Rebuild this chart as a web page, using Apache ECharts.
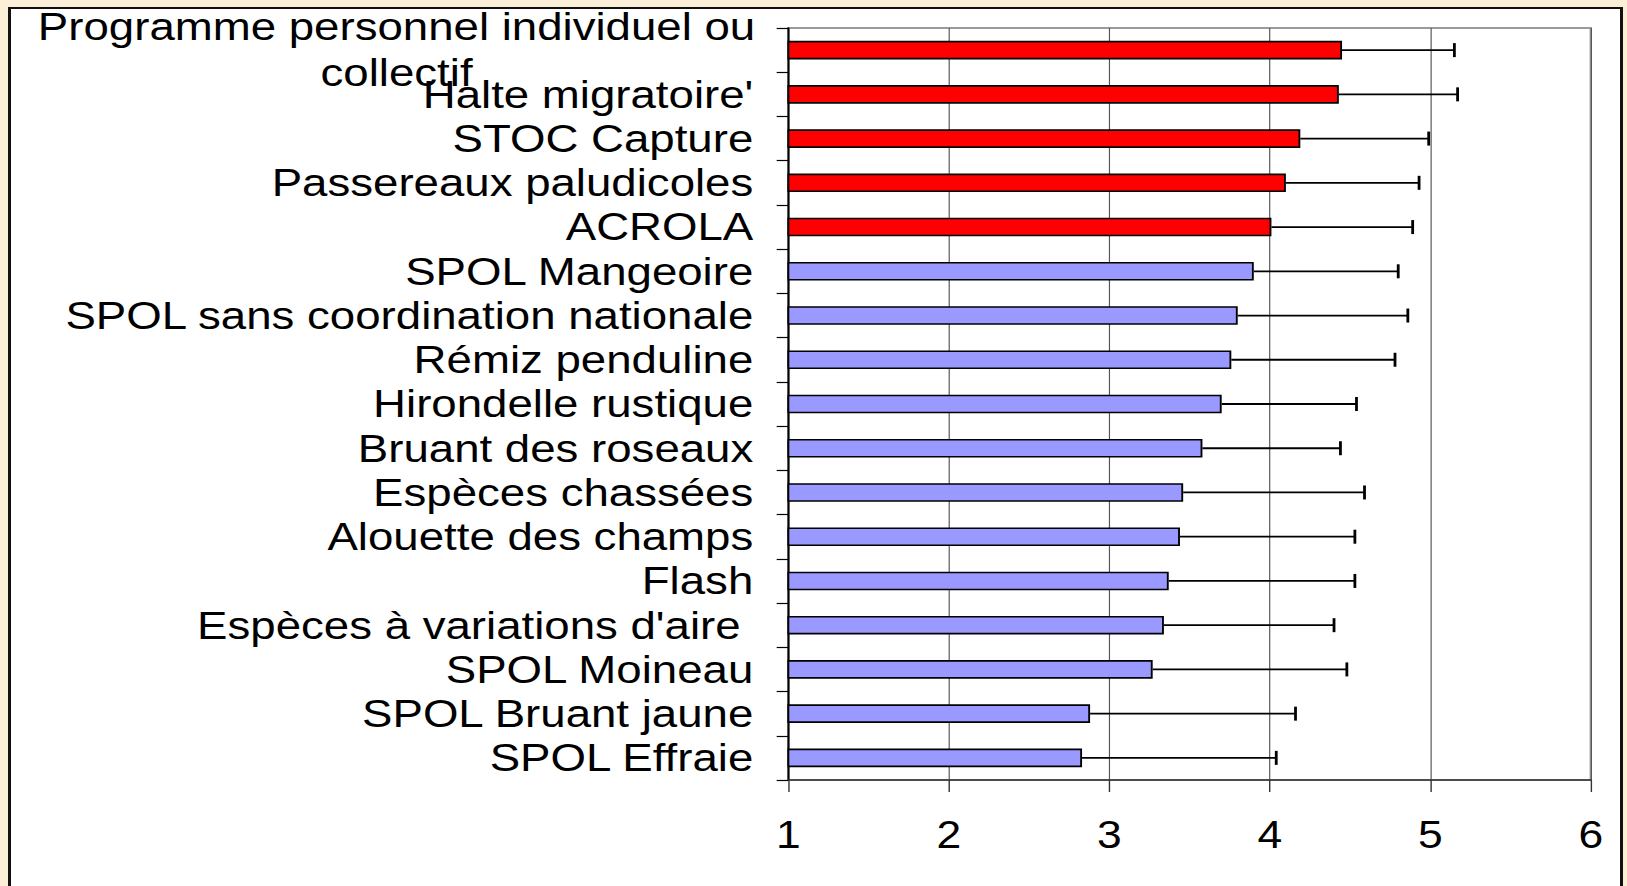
<!DOCTYPE html>
<html>
<head>
<meta charset="utf-8">
<script src="https://cdn.jsdelivr.net/npm/echarts@6/dist/echarts.min.js"></script>
<style>
  html, body { margin: 0; padding: 0; width: 1627px; height: 886px; overflow: hidden; background: #fcefd8; }
  #frame { position: absolute; left: 8px; top: 7px; width: 1609px; height: 900px; background: #fff;
           border-left: 3px solid #111; border-top: 2px solid #111; border-right: 3px solid #111; }
  /* the original picture is stretched sideways, so the chart is drawn narrow and widened */
  #chart { position: absolute; left: 0; top: 0; width: 1391px; height: 886px;
           transform: scaleX(1.1697); transform-origin: 0 0; }
</style>
</head>
<body>
<div id="frame"></div>
<div id="chart"></div>
<script>
const categories = [
  'Programme personnel individuel ou\ncollectif',
  "Halte migratoire'",
  'STOC Capture',
  'Passereaux paludicoles',
  'ACROLA',
  'SPOL Mangeoire',
  'SPOL sans coordination nationale',
  'Rémiz penduline',
  'Hirondelle rustique',
  'Bruant des roseaux',
  'Espèces chassées',
  'Alouette des champs',
  'Flash',
  "Espèces à variations d'aire ",
  'SPOL Moineau',
  'SPOL Bruant jaune',
  'SPOL Effraie'
]
const means = [4.45, 4.43, 4.19, 4.10, 4.01, 3.90, 3.80, 3.76, 3.70, 3.58, 3.46, 3.44, 3.37, 3.34, 3.27, 2.88, 2.83]
const errors = [0.70, 0.74, 0.80, 0.83, 0.88, 0.90, 1.06, 1.02, 0.84, 0.86, 1.13, 1.09, 1.16, 1.06, 1.21, 1.28, 1.21]
const xTicks = [1, 2, 3, 4, 5, 6]

const FONT = 'Liberation Sans, Arial, sans-serif'
const redCount = 5

let errData = []
for (let i = 0; i < means.length; i++) {
  errData.push([means[i], i, means[i] + errors[i]])
}

const chart = echarts.init(document.getElementById('chart'), null, { renderer: 'svg' })

chart.setOption({
  animation: false,
  grid: {
    left: 674, right: 31, top: 28, bottom: 106,
    show: true, borderColor: '#9a9a9a', borderWidth: 2, backgroundColor: '#fff'
  },
  xAxis: {
    type: 'value',
    min: xTicks[0],
    max: xTicks[xTicks.length - 1],
    interval: 1,
    axisLine: { show: true, lineStyle: { color: '#333', width: 1.5 } },
    axisTick: { show: true, length: 12, lineStyle: { color: '#333', width: 1.2 } },
    axisLabel: { margin: 36, fontSize: 38, fontFamily: FONT, color: '#000' },
    splitLine: { show: true, lineStyle: { color: '#555', width: 1 } }
  },
  yAxis: {
    type: 'category',
    data: categories,
    inverse: true,
    axisLine: { show: true, lineStyle: { color: '#000', width: 1.5 } },
    axisTick: { show: true, length: 10, interval: 0, alignWithLabel: false, lineStyle: { color: '#000', width: 1.2 } },
    axisLabel: {
      interval: 0,
      margin: 30,
      fontSize: 39,
      fontFamily: FONT,
      color: '#000',
      formatter: (v) => v.indexOf('\n') >= 0 ? '{wrap|' + v + '}' : v,
      rich: {
        wrap: { width: 610, align: 'center', lineHeight: 46, fontSize: 39, fontFamily: FONT, color: '#000' }
      }
    },
    splitLine: { show: false }
  },
  series: [
    {
      type: 'bar',
      data: means,
      barWidth: '42%',
      itemStyle: {
        color: (p) => p.dataIndex < redCount ? '#ff0000' : '#9999ff',
        borderColor: '#000',
        borderWidth: 1.6
      },
      emphasis: { disabled: true },
      z: 3
    },
    {
      type: 'custom',
      data: errData,
      encode: { x: [0, 2], y: 1 },
      z: 4,
      renderItem: (params, api) => {
        const start = api.coord([api.value(0), api.value(1)])
        const end = api.coord([api.value(2), api.value(1)])
        const half = 7
        return {
          type: 'group',
          children: [
            {
              type: 'line',
              shape: { x1: start[0], y1: start[1], x2: end[0], y2: end[1] },
              style: { stroke: '#000', lineWidth: 1.8 }
            },
            {
              type: 'line',
              shape: { x1: end[0], y1: end[1] - half, x2: end[0], y2: end[1] + half },
              style: { stroke: '#000', lineWidth: 2.4 }
            }
          ]
        }
      }
    }
  ]
})
</script>
</body>
</html>
